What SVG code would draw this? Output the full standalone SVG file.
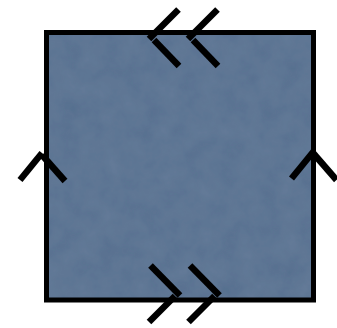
<svg xmlns="http://www.w3.org/2000/svg" width="337" height="328" viewBox="0 0 337 328">
<defs>
<style>
.arm{stroke:#000;stroke-width:6.5;stroke-linecap:butt;fill:none}
</style>
<filter id="tex" x="0" y="0" width="100%" height="100%">
<feTurbulence type="fractalNoise" baseFrequency="0.05" numOctaves="4" seed="3" result="n"/>
<feColorMatrix in="n" type="matrix" values="0 0 0 0 0.36  0 0 0 0 0.46  0 0 0 0 0.60  0 0 0 0.14 0" result="c"/>
<feComposite in="c" in2="SourceGraphic" operator="in" result="m"/>
<feMerge><feMergeNode in="SourceGraphic"/><feMergeNode in="m"/></feMerge>
</filter>
</defs>
<rect width="337" height="328" fill="#fff"/>
<g id="square">
<rect x="46.5" y="32.5" width="267" height="267.5" fill="#566f8f" filter="url(#tex)"/>
<rect x="46.5" y="32.5" width="267" height="267.5" fill="none" stroke="#000" stroke-width="5"/>
</g>
<g id="connectors">
<g id="top-arrows">
<line class="arm" x1="178.5" y1="9.5" x2="149" y2="39"/>
<line class="arm" x1="154" y1="40" x2="179" y2="66"/>
<line class="arm" x1="217.5" y1="9.5" x2="188" y2="39"/>
<line class="arm" x1="193" y1="40" x2="218" y2="66"/>
</g>
<g id="bottom-arrows">
<line class="arm" x1="150.5" y1="265.5" x2="180" y2="295.5"/>
<line class="arm" x1="175" y1="296" x2="149" y2="322"/>
<line class="arm" x1="190" y1="265.5" x2="219.5" y2="295.5"/>
<line class="arm" x1="214.5" y1="296" x2="188.5" y2="322"/>
</g>
<g id="left-arrow">
<line class="arm" x1="20" y1="180" x2="42" y2="153"/>
<line class="arm" x1="42" y1="155" x2="65" y2="181"/>
</g>
<g id="right-arrow">
<line class="arm" x1="291.5" y1="178.5" x2="313.5" y2="151.5"/>
<line class="arm" x1="313.5" y1="153.5" x2="336.5" y2="180"/>
</g>
</g>
</svg>
